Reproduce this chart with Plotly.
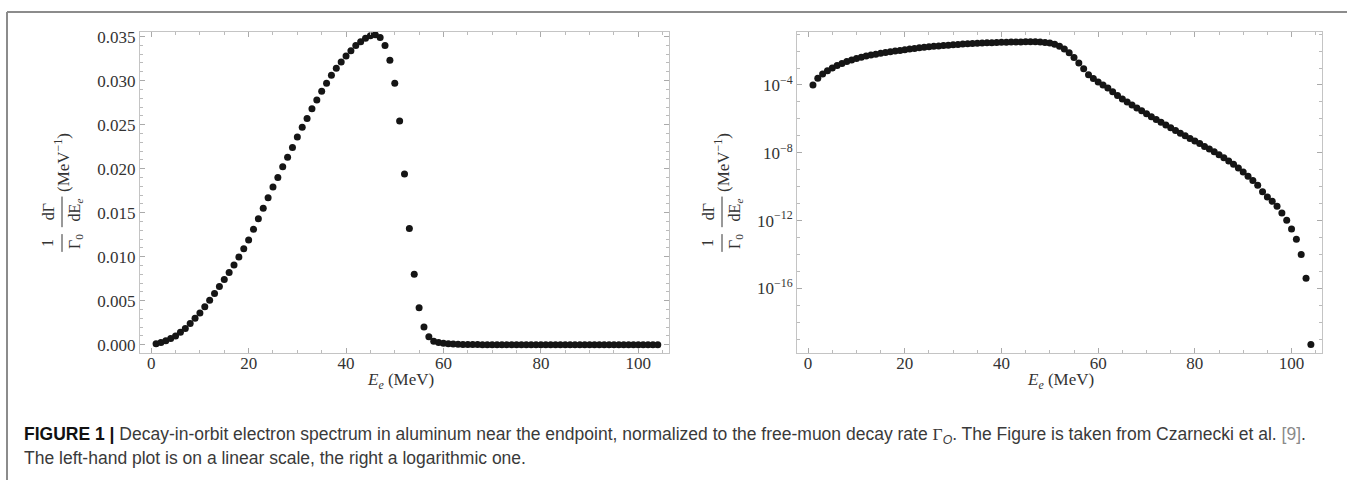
import plotly.graph_objects as go

W, H = 1347, 482

energy = [1, 2, 3, 4, 5, 6, 7, 8, 9, 10, 11, 12, 13, 14, 15, 16, 17, 18, 19, 20,
          21, 22, 23, 24, 25, 26, 27, 28, 29, 30, 31, 32, 33, 34, 35, 36, 37, 38, 39, 40,
          41, 42, 43, 44, 45, 46, 47, 48, 49, 50, 51, 52, 53, 54, 55, 56, 57, 58, 59, 60,
          61, 62, 63, 64, 65, 66, 67, 68, 69, 70, 71, 72, 73, 74, 75, 76, 77, 78, 79, 80,
          81, 82, 83, 84, 85, 86, 87, 88, 89, 90, 91, 92, 93, 94, 95, 96, 97, 98, 99, 100,
          101, 102, 103, 104]

rate = [1.0e-4, 2.5e-4, 4.5e-4, 7.0e-4, 1.00e-3, 1.40e-3, 1.85e-3, 2.40e-3, 3.00e-3, 3.60e-3,
        4.30e-3, 5.05e-3, 5.80e-3, 6.60e-3, 7.40e-3, 8.20e-3, 9.05e-3, 9.95e-3, 1.090e-2, 1.190e-2,
        1.31e-2, 1.43e-2, 1.55e-2, 1.67e-2, 1.79e-2, 1.90e-2, 2.02e-2, 2.13e-2, 2.24e-2, 2.36e-2,
        2.47e-2, 2.57e-2, 2.68e-2, 2.78e-2, 2.88e-2, 2.97e-2, 3.06e-2, 3.14e-2, 3.21e-2, 3.28e-2,
        3.34e-2, 3.40e-2, 3.44e-2, 3.48e-2, 3.51e-2, 3.52e-2, 3.49e-2, 3.40e-2, 3.23e-2, 2.97e-2,
        2.54e-2, 1.94e-2, 1.32e-2, 8.0e-3, 4.2e-3, 2.0e-3, 9.0e-4, 4.0e-4, 2.4e-4, 1.5e-4,
        1.0e-4, 6.6e-5, 4.0e-5, 2.4e-5, 1.5e-5, 1.0e-5, 6.6e-6, 4.4e-6, 3.0e-6, 2.0e-6,
        1.35e-6, 9.1e-7, 6.3e-7, 4.4e-7, 3.0e-7, 2.1e-7, 1.45e-7, 1.0e-7, 7.1e-8, 5.0e-8,
        3.5e-8, 2.4e-8, 1.66e-8, 1.15e-8, 7.8e-9, 5.1e-9, 3.3e-9, 2.1e-9, 1.26e-9, 7.4e-10,
        4.2e-10, 2.3e-10, 1.23e-10, 5.0e-11, 2.5e-11, 1.4e-11, 7.1e-12, 2.8e-12, 1.07e-12, 3.2e-13,
        7.9e-14, 1.0e-14, 4.0e-16, 5.0e-20]

x_ticks = [0, 20, 40, 60, 80, 100]
lin_y_ticks = [0.000, 0.005, 0.010, 0.015, 0.020, 0.025, 0.030, 0.035]
log_y_ticks = [1e-4, 1e-8, 1e-12, 1e-16]
log_y_labels = ["10<sup>−4</sup>", "10<sup>−8</sup>", "10<sup>−12</sup>", "10<sup>−16</sup>"]

SERIF = "Liberation Serif"
FRAME = "#c4c4c4"
TXT = "#333333"


def px(x):
    return x / W


def py(y):
    return 1 - y / H


fig = go.Figure()
marker = dict(size=7, color="#151515")
fig.add_trace(go.Scatter(x=energy, y=rate, mode="markers", marker=marker,
                         xaxis="x", yaxis="y", showlegend=False))
fig.add_trace(go.Scatter(x=energy, y=rate, mode="markers", marker=marker,
                         xaxis="x2", yaxis="y2", showlegend=False))

common_axis = dict(showgrid=False, zeroline=False, showline=True, linecolor=FRAME,
                   linewidth=1, mirror="ticks", ticks="inside", ticklen=5,
                   tickcolor="#aaaaaa", tickfont=dict(family=SERIF, size=17, color=TXT))
minor_x = dict(dtick=5, tick0=0, ticklen=3, ticks="inside", tickcolor="#bbbbbb")

xr = [-2.3, 106.3]
fig.update_layout(
    width=W, height=H,
    margin=dict(l=0, r=0, t=0, b=0),
    paper_bgcolor="white", plot_bgcolor="white",
    xaxis=dict(domain=[px(140), px(669)], range=xr, anchor="y", ticklabelstandoff=-5,
               tickvals=x_ticks, minor=minor_x, **common_axis),
    yaxis=dict(domain=[py(353), py(28)], range=[-0.0009, 0.03556], anchor="x",
               tickvals=lin_y_ticks, tickformat=".3f",
               minor=dict(dtick=0.001, tick0=0, ticklen=3, ticks="inside", tickcolor="#bbbbbb"),
               **common_axis),
    xaxis2=dict(domain=[px(797), px(1322)], range=xr, anchor="y2", ticklabelstandoff=-5,
                tickvals=x_ticks, minor=minor_x, **common_axis),
    yaxis2=dict(domain=[py(353), py(28)], type="log", range=[-19.78, -0.855], anchor="x2",
                tickvals=log_y_ticks, ticktext=log_y_labels,
                minor=dict(tickvals=[10.0 ** (-k) for k in range(1, 20) if k % 4 != 0],
                           ticklen=3, ticks="inside", tickcolor="#bbbbbb"),
                **common_axis),
)

ann = []
shapes = []
lab_font = dict(family=SERIF, size=17, color=TXT)
frac_font = dict(family=SERIF, size=16, color=TXT)
for bar, xc in [(62, 400), (722, 1060)]:
    ann.append(dict(x=px(bar), y=py(161), text="(MeV<sup>−1</sup>)", textangle=-90,
                    font=lab_font))
    ann.append(dict(x=px(bar - 14), y=py(242), text="1", textangle=-90, font=frac_font))
    ann.append(dict(x=px(bar - 14), y=py(211), text="dΓ", textangle=-90, font=frac_font))
    ann.append(dict(x=px(bar + 13), y=py(241), text="Γ<sub>0</sub>", textangle=-90, font=frac_font))
    ann.append(dict(x=px(bar + 13), y=py(209), text="dE<sub><i>e</i></sub>", textangle=-90, font=frac_font))
    shapes.append(dict(type="line", xref="paper", yref="paper", x0=px(bar), x1=px(bar),
                       y0=py(233), y1=py(251), line=dict(color=TXT, width=1)))
    shapes.append(dict(type="line", xref="paper", yref="paper", x0=px(bar), x1=px(bar),
                       y0=py(195), y1=py(226), line=dict(color=TXT, width=1)))
    ann.append(dict(x=px(xc), y=py(382), text="<i>E<sub>e</sub></i> (MeV)",
                    font=dict(family=SERIF, size=17, color=TXT)))

for a in ann:
    a.update(xref="paper", yref="paper", showarrow=False, xanchor="center", yanchor="middle")

cap_font = dict(family="Liberation Sans", size=17.5, color="#3a3a3a")
ann.append(dict(x=px(22), y=py(437), xref="paper", yref="paper", showarrow=False,
                xanchor="left", yanchor="middle", font=cap_font,
                text="<b style='color:#111'>FIGURE 1 |</b> Decay-in-orbit electron spectrum in aluminum near the endpoint, "
                     "normalized to the free-muon decay rate <span style='font-family:Liberation Serif'>Γ</span><sub><i>O</i></sub>. "
                     "The Figure is taken from Czarnecki et al. <span style='color:#8a8a8a'>[9]</span>."))
ann.append(dict(x=px(22), y=py(460), xref="paper", yref="paper", showarrow=False,
                xanchor="left", yanchor="middle", font=cap_font,
                text="The left-hand plot is on a linear scale, the right a logarithmic one."))

shapes.append(dict(type="line", xref="paper", yref="paper", x0=px(7), x1=1, y0=py(8), y1=py(8),
                   line=dict(color="#8c8c8c", width=2)))
shapes.append(dict(type="line", xref="paper", yref="paper", x0=px(7), x1=px(7), y0=py(8), y1=0,
                   line=dict(color="#8c8c8c", width=2)))

fig.update_layout(annotations=ann, shapes=shapes)
fig.write_html("out.html")
